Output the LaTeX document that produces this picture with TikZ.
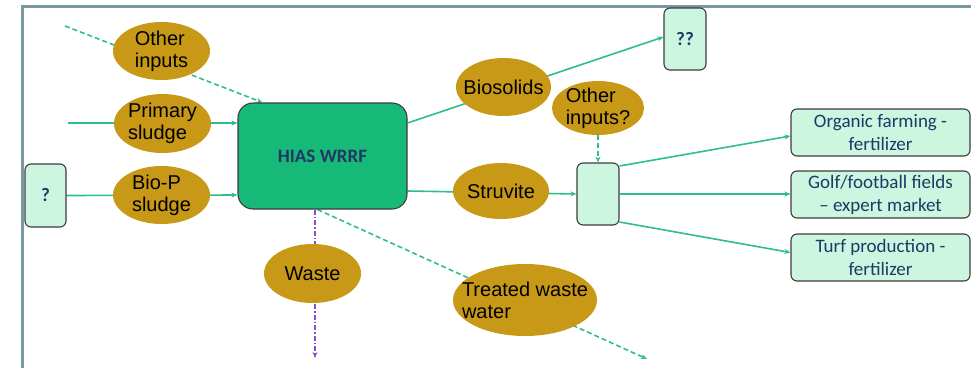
\documentclass[tikz,border=0pt]{standalone}
\usepackage{fontspec}
\setmainfont{Liberation Sans}
\newfontfamily\calib{Carlito}
\usetikzlibrary{arrows.meta,backgrounds,shapes.geometric}
\definecolor{framec}{RGB}{122,152,162}
\definecolor{flow}{RGB}{46,190,135}
\definecolor{gold}{RGB}{200,153,22}
\definecolor{mint}{RGB}{204,246,224}
\definecolor{plant}{RGB}{23,185,120}
\definecolor{navy}{RGB}{31,56,100}
\definecolor{wastec}{RGB}{138,80,200}
\definecolor{edge}{RGB}{60,60,60}
\begin{document}
\begin{tikzpicture}[x=1pt,y=-1pt,
  stream/.style={ellipse,fill=gold,inner xsep=-20pt,inner ysep=-8pt,align=left,
    font=\fontsize{20}{22}\selectfont},
  sink/.style={rectangle,rounded corners=6pt,draw=edge,line width=1.1pt,
    fill=mint,inner sep=0pt,align=center,text=navy,
    font=\calib\fontsize{19}{23}\selectfont},
  plantbox/.style={rectangle,rounded corners=15pt,draw=edge,line width=1.1pt,
    fill=plant,inner sep=0pt,text=navy,
    font=\calib\bfseries\fontsize{19}{23}\selectfont},
  flowline/.style={draw=flow,line width=1.6pt,-{Stealth[length=6pt,width=5pt]}},
  dashflow/.style={flowline,dash pattern=on 5pt off 3pt},
  wasteline/.style={draw=wastec,line width=1.6pt,
    dash pattern=on 5pt off 2pt on 1.5pt off 2pt,-{Stealth[length=6pt,width=5pt]}},
  frameline/.style={draw=framec,line width=3pt}]
\useasboundingbox (0,0) rectangle (971,367);

% outer frame
\draw[frameline] (22,380) -- (22,6) -- (990,6);

% boxes
\node[sink,minimum width=41pt,minimum height=63pt,font=\calib\bfseries\fontsize{19}{23}\selectfont] (src) at (45.5,195.5) {?};
\node[plantbox,minimum width=169pt,minimum height=106pt] (hias) at (322.5,156) {HIAS WRRF};
\node[sink,minimum width=42pt,minimum height=62pt,font=\calib\bfseries\fontsize{19}{23}\selectfont] (qq) at (685,39) {??};
\node[sink,minimum width=42pt,minimum height=62pt] (hub) at (598,194) {};
\node[sink,minimum width=179pt,minimum height=47pt] (organic) at (880.5,132.5) {Organic farming -\\fertilizer};
\node[sink,minimum width=179pt,minimum height=47pt] (golf) at (880.5,194.5) {Golf/football fields\\– expert market};
\node[sink,minimum width=179pt,minimum height=47pt] (turf) at (880.5,257.5) {Turf production -\\fertilizer};

% material streams
\node[stream,minimum width=97pt,minimum height=58pt] (oin) at (161.5,51) {Other\\inputs};
\node[stream,minimum width=97pt,minimum height=59pt] (prim) at (162.5,123.5) {Primary\\sludge};
\node[stream,minimum width=97pt,minimum height=58pt] (biop) at (161.5,195) {Bio-P\\sludge};
\node[stream,minimum width=95pt,minimum height=58pt] (bios) at (503.5,87) {Biosolids};
\node[stream,minimum width=92pt,minimum height=54pt] (oiq) at (598,108) {Other\\inputs?};
\node[stream,minimum width=96pt,minimum height=56pt] (struv) at (501,191) {Struvite};
\node[stream,minimum width=97pt,minimum height=59pt] (waste) at (312.5,273.5) {Waste};
\node[stream,minimum width=144pt,minimum height=72pt] (tww) at (525,300) {Treated waste\\water};

% free ends of connectors
\coordinate (oin-in) at (65,26);
\coordinate (prim-in) at (68,123);
\coordinate (waste-out) at (315,358);
\coordinate (tww-out) at (647,359);

\begin{pgfonlayer}{background}
  \draw[dashflow] (oin-in) -- ([xshift=25pt]hias.north west);
  \draw[flowline] (prim-in) -- ([yshift=33pt]hias.west);
  \draw[flowline] (src.east) -- ([yshift=-39pt]hias.west);
  \draw[flowline] ([yshift=33pt]hias.east) -- ([yshift=2pt]qq.west);
  \draw[flowline] ([yshift=-35pt]hias.east) -- (hub.west);
  \draw[dashflow] (oiq.south) -- (hub.north);
  \draw[flowline] ([yshift=28pt]hub.east) -- ([yshift=-3.5pt]organic.west);
  \draw[flowline] (hub.east) -- (hub.east -| golf.west);
  \draw[flowline] ([yshift=-28pt]hub.east) -- ([yshift=5pt]turf.west);
  \draw[wasteline] ([xshift=-7.5pt]hias.south) -- (waste-out);
  \draw[dashflow] ([xshift=-5pt]hias.south) -- (tww-out);
\end{pgfonlayer}
\end{tikzpicture}
\end{document}
